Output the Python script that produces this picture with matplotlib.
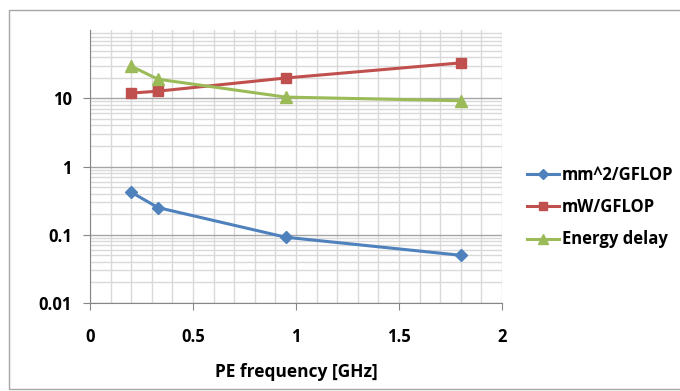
import matplotlib.pyplot as plt
from matplotlib.patches import Rectangle
from matplotlib.ticker import FixedLocator, LogLocator, NullFormatter, FuncFormatter

freq = [0.2, 0.33, 0.95, 1.8]
area = [0.42, 0.25, 0.092, 0.050]
power = [11.9, 12.7, 19.8, 33]
energy_delay = [29.5, 19, 10.4, 9.2]

plt.rcParams['font.family'] = ['Open Sans', 'DejaVu Sans']
plt.rcParams['font.weight'] = 'bold'

fig = plt.figure(figsize=(6.8, 3.91), dpi=100)
fig.patches.append(Rectangle((9/680, 0.005), 0.99, 1 - 10/391 - 0.005, transform=fig.transFigure,
                             fill=False, edgecolor='#a6a6a6', linewidth=1.0))
ax = fig.add_axes([90/680, 1 - 303/391, 412/680, 273/391])

ax.plot(freq, area, color='#4f81bd', linewidth=2.2, marker='D', markersize=6, label='mm^2/GFLOP')
ax.plot(freq, power, color='#c0504d', linewidth=2.2, marker='s', markersize=7, label='mW/GFLOP')
ax.plot(freq, energy_delay, color='#9bbb59', linewidth=2.2, marker='^', markersize=8, label='Energy delay')

ax.set_yscale('log')
ax.set_ylim(0.01, 100)
ax.set_xlim(0, 2)
ax.yaxis.set_major_locator(FixedLocator([0.01, 0.1, 1, 10]))
ax.yaxis.set_major_formatter(FuncFormatter(lambda v, p: f'{v:g}'))
ax.yaxis.set_minor_locator(LogLocator(base=10, subs=range(2, 10)))
ax.yaxis.set_minor_formatter(NullFormatter())
ax.xaxis.set_major_locator(FixedLocator([0, 0.5, 1, 1.5, 2]))
ax.xaxis.set_major_formatter(FuncFormatter(lambda v, p: f'{v:g}'))
ax.xaxis.set_minor_locator(FixedLocator([i / 10 for i in range(21)]))

ax.grid(which='minor', color='#d9d9d9', linewidth=1.0)
ax.grid(which='major', axis='x', color='#d9d9d9', linewidth=1.0)
ax.grid(which='major', axis='y', color='#a6a6a6', linewidth=1.0)
ax.set_axisbelow(True)

for s in ['top', 'right']:
    ax.spines[s].set_visible(False)
for s in ['left', 'bottom']:
    ax.spines[s].set_color('#868686')
ax.tick_params(which='major', length=5, color='#868686', labelsize=12, pad=8)
ax.tick_params(which='minor', length=0)
ax.tick_params(axis='x', pad=13)
for lab in ax.get_xticklabels() + ax.get_yticklabels():
    lab.set_fontweight('bold')

ax.set_xlabel('PE frequency [GHz]', fontsize=12.5, fontweight='bold', labelpad=12)

ax.legend(loc='center left', bbox_to_anchor=(512/680, 0.47), bbox_transform=fig.transFigure,
          frameon=False, prop={'size': 12, 'weight': 'bold'}, handlelength=1.9, handletextpad=0.2,
          labelspacing=0.85, markerscale=0.9)

fig.savefig('out.png', dpi=100)
